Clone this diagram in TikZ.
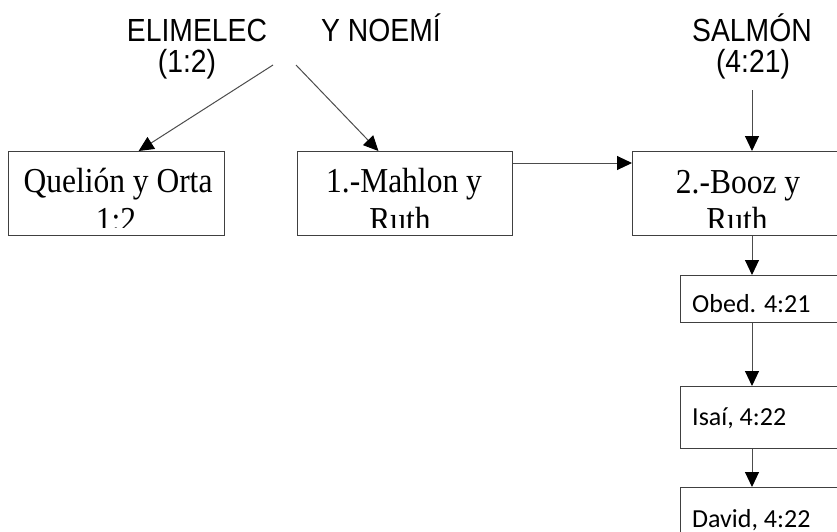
\documentclass[tikz,border=0pt]{standalone}
\usepackage{fontspec}
\setmainfont{Liberation Serif}
\newfontfamily\arialf{Liberation Sans}
\newfontfamily\calibrif{Carlito}
\usetikzlibrary{arrows.meta,calc}
\tikzset{
  conn/.style={draw=black!70, line width=1pt, -{Triangle[length=15pt,width=14pt,color=black]}},
  boxs/.style={draw=black!75, line width=1pt, inner sep=0pt, anchor=north west},
  toplabel/.style={font=\arialf\fontsize{32}{36}\selectfont, inner sep=0pt, anchor=base},
  timestxt/.style={font=\fontsize{35}{40}\selectfont, inner sep=0pt, anchor=base},
  calitxt/.style={font=\calibrif\fontsize{26}{30}\selectfont, inner sep=0pt, anchor=base west}
}
\newcommand{\narrow}[1]{\scalebox{0.9}[1]{#1}}
\newcommand{\narrowsans}[1]{\scalebox{0.885}[1]{#1}}
\begin{document}
\begin{tikzpicture}[x=1pt,y=-1pt]
\useasboundingbox (0,0) rectangle (837,531);
\clip (0,0) rectangle (837,531);
% top labels
\node[toplabel] (elim) at (197,41) {\narrowsans{ELIMELEC}};
\node[toplabel] (elimv) at (187,72) {\narrowsans{(1:2)}};
\node[toplabel] (noemi) at (381,41) {\narrowsans{Y NOEMÍ}};
\node[toplabel] (salmon) at (752,41) {\narrowsans{SALMÓN}};
\node[toplabel] (salmonv) at (753,72) {\narrowsans{(4:21)}};
% boxes
\node[boxs, minimum width=216pt, minimum height=84pt] (quelion) at (8,151) {};
\node[boxs, minimum width=215pt, minimum height=84pt] (mahlon) at (297,151) {};
\node[boxs, minimum width=216pt, minimum height=84pt] (booz) at (632,151) {};
\node[boxs, minimum width=190pt, minimum height=47pt] (obed) at (680,275) {};
\node[boxs, minimum width=190pt, minimum height=62pt] (isai) at (680,386) {};
\node[boxs, minimum width=190pt, minimum height=80pt] (david) at (680,487) {};
% box texts (clipped to the inner area of their boxes)
\begin{scope}
  \clip ($(quelion.north west)+(1,1)$) rectangle ($(quelion.south east)+(-1,-9)$);
  \node[timestxt] (tq1) at (118,192) {\narrow{Quelión y Orta}};
  \node[timestxt] (tq2) at (116,231) {\narrow{1:2}};
\end{scope}
\begin{scope}
  \clip ($(mahlon.north west)+(1,1)$) rectangle ($(mahlon.south east)+(-1,-9)$);
  \node[timestxt] (tm1) at (404,192) {\narrow{1.-Mahlon y}};
  \node[timestxt] (tm2) at (400,231) {\narrow{Ruth}};
\end{scope}
\begin{scope}
  \clip ($(booz.north west)+(1,1)$) rectangle ($(booz.south east)+(-1,-9)$);
  \node[timestxt] (tb1) at (738,193) {\narrow{2.-Booz y}};
  \node[timestxt] (tb2) at (737,231) {\narrow{Ruth}};
\end{scope}
\node[calitxt] (to) at (692,312) {Obed. 4:21};
\node[calitxt] (ti) at (692,425) {Isaí, 4:22};
\node[calitxt] (td) at (692,527) {David, 4:22};
% connectors
\coordinate (c1) at (273,65);
\coordinate (c2) at (296,65);
\coordinate (c3) at (752,90);
\draw[conn] (c1) -- ($(quelion.north west)!0.602!(quelion.north east)$);
\draw[conn] (c2) -- ($(mahlon.north west)!0.377!(mahlon.north east)$);
\draw[conn] ($(mahlon.north east)+(0,12)$) -- ($(booz.north west)+(0,12)$);
\draw[conn] (c3) -- (c3 |- booz.north);
\draw[conn] (c3 |- booz.south) -- (c3 |- obed.north);
\draw[conn] (c3 |- obed.south) -- (c3 |- isai.north);
\draw[conn] (c3 |- isai.south) -- (c3 |- david.north);
\end{tikzpicture}
\end{document}
